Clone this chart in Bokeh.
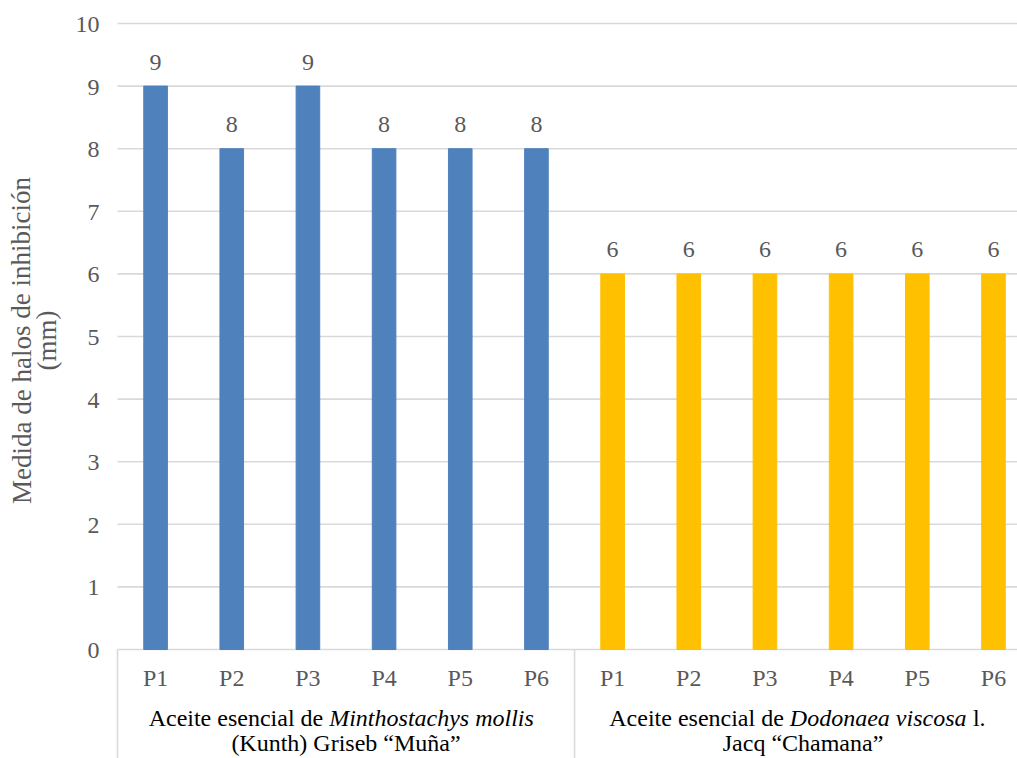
from bokeh.plotting import figure
from bokeh.models import ColumnDataSource, Range1d
from bokeh.core.properties import value
from bokeh.embed import file_html
from bokeh.resources import INLINE

# ---- data -------------------------------------------------------------
points = ["P1", "P2", "P3", "P4", "P5", "P6"]
muna = [9, 8, 9, 8, 8, 8]          # Minthostachys mollis "Muña"
chamana = [6, 6, 6, 6, 6, 6]       # Dodonaea viscosa "Chamana"
y_ticks = list(range(0, 11))
y_title = ["Medida de halos de inhibición", "(mm)"]
# (regular prefix, italic species name, regular suffix, second line)
group_labels = [
    ("Aceite esencial de", "Minthostachys mollis", "", "(Kunth) Griseb \u201cMuña\u201d"),
    ("Aceite esencial de", "Dodonaea viscosa", "l.", "Jacq \u201cChamana\u201d"),
]

# ---- style ------------------------------------------------------------
BLUE, GOLD = "#4f81bd", "#ffc000"
GRID, TICK, DARK = "#d9d9d9", "#595959", "#000000"
FONT = value("Liberation Serif")
TICK_PX, GROUP_PX, TITLE_PX = 24, 24, 27

W, H = 1017, 758
LEFT_PX, ZERO_PX, TOP_PX = 117, 649, 23     # plot-area left edge, y=0 and y=10 rows
CAT_PX = 76.17                              # width of one category slot
UNIT_PX = (ZERO_PX - TOP_PX) / 10.0
BAR_W = 0.31
BASE_FIX = 8                                # alphabetic baseline correction (px)


def px_x(p):
    return (p - LEFT_PX) / CAT_PX


def px_y(p):
    return (ZERO_PX - p) / UNIT_PX


n = len(points)
p = figure(width=W, height=H, output_backend="svg", toolbar_location=None,
           x_range=Range1d(px_x(0), px_x(W)), y_range=Range1d(px_y(H), px_y(0)),
           min_border=0, outline_line_color=None)
p.axis.visible = False
p.grid.visible = False
p.background_fill_color = "white"
p.border_fill_color = "white"

# horizontal gridlines and baseline
gx0 = [0.0] * len(y_ticks)
gx1 = [2.0 * n] * len(y_ticks)
p.segment(x0=gx0, y0=y_ticks, x1=gx1, y1=y_ticks, line_color=GRID, line_width=1.6)

# category-axis frame: left edge, group separator, right edge
sep_x = [0.0, float(n), 2.0 * n]
p.segment(x0=sep_x, y0=[0.0] * 3, x1=sep_x, y1=[px_y(H)] * 3,
          line_color=GRID, line_width=1.6)

# bars
x1 = [i + 0.5 for i in range(n)]
x2 = [n + i + 0.5 for i in range(n)]
src1 = ColumnDataSource(dict(x=x1, top=muna, lab=[str(v) for v in muna]))
src2 = ColumnDataSource(dict(x=x2, top=chamana, lab=[str(v) for v in chamana]))
p.vbar(x="x", top="top", bottom=0, width=BAR_W, source=src1,
       fill_color=BLUE, line_color=BLUE)
p.vbar(x="x", top="top", bottom=0, width=BAR_W, source=src2,
       fill_color=GOLD, line_color=GOLD)

# value labels above bars
for src in (src1, src2):
    p.text(x="x", y="top", text="lab", source=src, text_align="center",
           text_baseline="alphabetic", y_offset=-16 - BASE_FIX, text_font=FONT,
           text_font_size=f"{TICK_PX}px", text_color=TICK)

# y tick labels
p.text(x=[px_x(99)] * len(y_ticks), y=y_ticks, text=[str(t) for t in y_ticks],
       text_align="right", text_baseline="alphabetic", y_offset=9 - BASE_FIX,
       text_font=FONT, text_font_size=f"{TICK_PX}px", text_color=TICK)

# y axis title (two lines, rotated)
p.text(x=[px_x(21), px_x(46)], y=[px_y(340)] * 2, text=y_title, angle=1.5708,
       text_align="center", text_baseline="middle", text_font=FONT,
       text_font_size=f"{TITLE_PX}px", text_color=TICK)

# category tick labels
p.text(x=x1 + x2, y=[px_y(685 - BASE_FIX)] * (2 * n), text=points + points,
       text_align="center", text_baseline="alphabetic", text_font=FONT,
       text_font_size=f"{TICK_PX}px", text_color=TICK)

# group labels: first line mixes regular and italic runs
em = GROUP_PX / CAT_PX
line1_y, line2_y = px_y(725 - BASE_FIX), px_y(750 - BASE_FIX)
SPACE = 0.25
# per group: start of the italic run and start of the trailing run, in em from the centre
run_split = [(-0.70, None), (-0.55, 7.08)]
for g, (pre, ital, post, second) in enumerate(group_labels):
    c = g * n + n / 2.0
    b1, b2 = run_split[g]
    p.text(x=[c + (b1 - SPACE) * em], y=[line1_y], text=[pre], text_align="right",
           text_baseline="alphabetic", text_font=FONT,
           text_font_size=f"{GROUP_PX}px", text_color=DARK)
    p.text(x=[c + b1 * em], y=[line1_y], text=[ital], text_align="left",
           text_baseline="alphabetic", text_font=FONT, text_font_style="italic",
           text_font_size=f"{GROUP_PX}px", text_color=DARK)
    if post:
        p.text(x=[c + b2 * em], y=[line1_y], text=[post], text_align="left",
               text_baseline="alphabetic", text_font=FONT,
               text_font_size=f"{GROUP_PX}px", text_color=DARK)
    p.text(x=[c], y=[line2_y], text=[second], text_align="center",
           text_baseline="alphabetic", text_font=FONT,
           text_font_size=f"{GROUP_PX}px", text_color=DARK)

open("out.html", "w").write(file_html(p, INLINE))
